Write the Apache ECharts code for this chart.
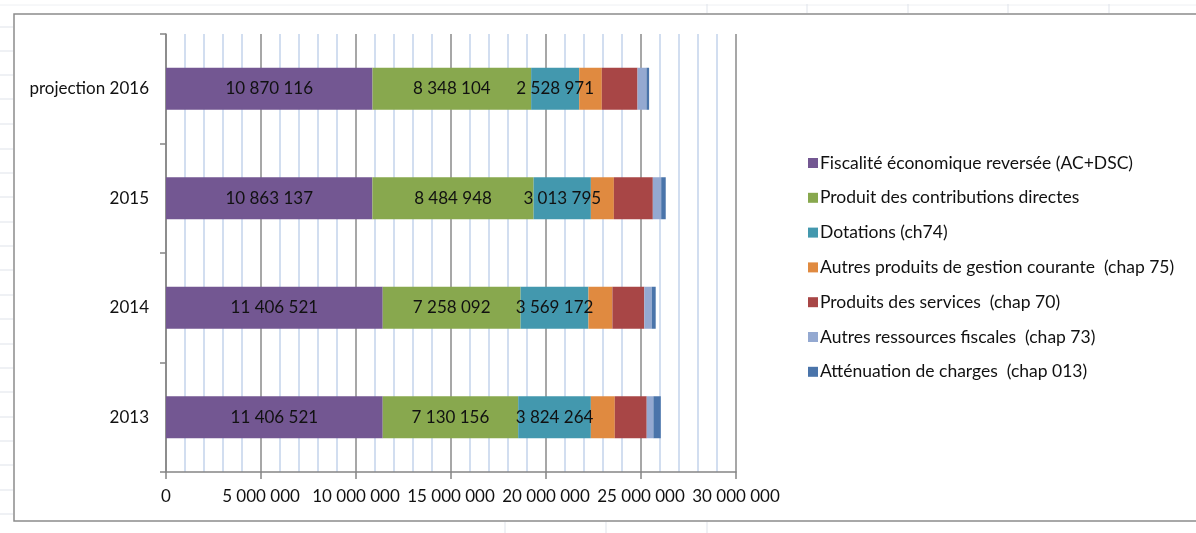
<!DOCTYPE html>
<html>
<head>
<meta charset="utf-8">
<script src="https://cdn.jsdelivr.net/npm/echarts@6/dist/echarts.min.js"></script>
<style>
  html, body { margin: 0; padding: 0; background: #ffffff; }
  #chart { width: 1196px; height: 533px; }
</style>
</head>
<body>
<div id="chart"></div>
<script>
// Recettes de fonctionnement par année (en euros)
const categories = ['2013', '2014', '2015', 'projection 2016'];

const seriesNames = [
  'Fiscalité économique reversée (AC+DSC)',
  'Produit des contributions directes',
  'Dotations (ch74)',
  'Autres produits de gestion courante  (chap 75)',
  'Produits des services  (chap 70)',
  'Autres ressources fiscales  (chap 73)',
  'Atténuation de charges  (chap 013)'
];

const fiscaliteEco   = [11406521, 11406521, 10863137, 10870116];
const contributions  = [7130156, 7258092, 8484948, 8348104];
const dotations      = [3824264, 3569172, 3013795, 2528971];
const autresGestion  = [1260000, 1260000, 1210000, 1190000];
const services       = [1680000, 1680000, 2050000, 1880000];
const autresFiscales = [350000, 390000, 440000, 470000];
const attenuation    = [390000, 210000, 240000, 140000];

const xTicks = [0, 5000000, 10000000, 15000000, 20000000, 25000000, 30000000];

const colors = ['#735792', '#88a84e', '#4398ae', '#e08a40', '#a84646', '#94a9d1', '#4a74aa'];
const values = [fiscaliteEco, contributions, dotations, autresGestion, services, autresFiscales, attenuation];
const labelled = [true, true, true, false, false, false, false];

const FONT = 'Lato, "Open Sans", sans-serif';

function fmt(v) {
  return String(Math.round(v)).replace(/\B(?=(\d{3})+(?!\d))/g, ' ');
}

// Sheet decoration around the chart frame
const sheetLines = [];
const rowYs = [27, 51, 75, 99, 124, 149, 173, 197, 222, 246, 270, 295, 319, 344, 368, 392, 417, 441, 465, 490, 514];
rowYs.forEach(y => sheetLines.push({
  type: 'line', silent: true,
  shape: { x1: 0, y1: y, x2: 13, y2: y },
  style: { stroke: '#dfe3ea', lineWidth: 1 }
}));
sheetLines.push({
  type: 'line', silent: true,
  shape: { x1: 0, y1: 5, x2: 1196, y2: 5 },
  style: { stroke: '#eef0f3', lineWidth: 1 }
});
[707, 807, 908, 1008, 1109].forEach(x => sheetLines.push({
  type: 'line', silent: true,
  shape: { x1: x, y1: 4, x2: x, y2: 13 },
  style: { stroke: '#dfe3ea', lineWidth: 1 }
}));
[505, 606, 707].forEach(x => sheetLines.push({
  type: 'line', silent: true,
  shape: { x1: x, y1: 522, x2: x, y2: 533 },
  style: { stroke: '#dfe3ea', lineWidth: 1 }
}));
sheetLines.push({
  type: 'rect', silent: true,
  shape: { x: 14, y: 14, width: 1300, height: 507 },
  style: { fill: null, stroke: '#8c8c8c', lineWidth: 1.5 }
});

const chart = echarts.init(document.getElementById('chart'), null, { renderer: 'canvas' });

chart.setOption({
  animation: false,
  backgroundColor: '#ffffff',
  textStyle: { fontFamily: FONT },
  graphic: sheetLines,
  grid: { left: 166, right: 460, top: 34, bottom: 61, containLabel: false },
  legend: {
    orient: 'vertical',
    left: 803,
    top: 149,
    itemWidth: 10,
    itemHeight: 10,
    itemGap: 16.8,
    icon: 'rect',
    data: seriesNames,
    textStyle: { fontFamily: FONT, fontSize: 17.5, color: '#111111', lineHeight: 18, padding: [0, 0, 0, -3] }
  },
  xAxis: {
    type: 'value',
    min: xTicks[0],
    max: xTicks[xTicks.length - 1],
    interval: 5000000,
    axisLine: { show: true, lineStyle: { color: '#858585', width: 1.5 } },
    axisTick: { show: true, length: 7, lineStyle: { color: '#858585', width: 1.5 } },
    axisLabel: {
      margin: 16,
      fontFamily: FONT,
      fontSize: 17,
      color: '#111111',
      formatter: v => fmt(v)
    },
    splitLine: { show: true, lineStyle: { color: '#8a8a8a', width: 1.5 } },
    minorTick: { show: false, splitNumber: 5 },
    minorSplitLine: { show: true, lineStyle: { color: '#c3d3ec', width: 1.5 } }
  },
  yAxis: {
    type: 'category',
    data: categories,
    axisLine: { show: true, lineStyle: { color: '#858585', width: 1.5 } },
    axisTick: { show: true, length: 6, inside: false, lineStyle: { color: '#858585', width: 1.5 } },
    axisLabel: { margin: 17, fontFamily: FONT, fontSize: 17, color: '#111111' },
    splitLine: { show: false }
  },
  series: seriesNames.map((name, i) => ({
    name: name,
    type: 'bar',
    stack: 'recettes',
    barWidth: 42,
    data: values[i],
    itemStyle: { color: colors[i] },
    label: {
      show: labelled[i],
      position: 'inside',
      fontFamily: FONT,
      fontSize: 17,
      color: '#111111',
      formatter: p => fmt(p.value)
    },
    emphasis: { disabled: true }
  }))
});
</script>
</body>
</html>
